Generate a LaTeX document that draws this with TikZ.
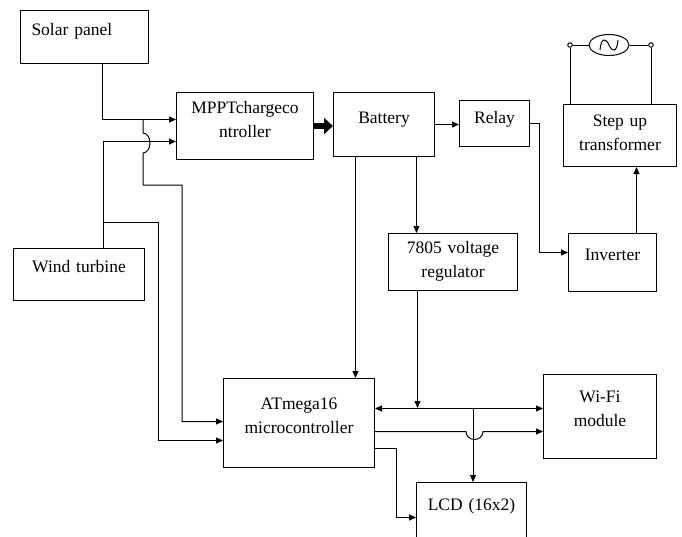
\documentclass[tikz,border=0pt]{standalone}
\usepackage{fontspec}
\setmainfont{Liberation Serif}
\newfontfamily\blockfont{Liberation Serif}
\usetikzlibrary{arrows.meta,shapes.geometric}
\tikzset{block/.style = {shape=rectangle,draw,inner sep=0pt,anchor=north west,align=center,font=\blockfont\fontsize{17.5}{24}\selectfont}}
\tikzset{link/.style = {-{Triangle[length=7pt,width=6pt]}}}
\tikzset{fatlink/.style = {line width=6pt,-{Triangle[length=9pt,width=16pt]}}}
\tikzset{acsrc/.style = {shape=ellipse,draw,minimum width=40pt,minimum height=21pt,inner sep=0pt}}
\tikzset{term/.style = {shape=circle,draw,fill=white,minimum size=4.5pt,inner sep=0pt}}

\begin{document}
\begin{tikzpicture}[x=1pt,y=-1pt,line width=1pt]
\useasboundingbox (0,0) rectangle (682,536);
% blocks
\node[block,text width=128pt,text height=25pt,text depth=28pt,align=left] (solar) at (20,10) {\hspace*{11pt}Solar panel};
\node[block,text width=137pt,text height=21pt,text depth=46pt] (mppt) at (176,92) {MPPTchargeco\\ntroller};
\node[block,text width=101pt,text height=31pt,text depth=33pt] (battery) at (333,92) {Battery};
\node[block,text width=70pt,text height=23pt,text depth=23pt] (relay) at (459,100) {Relay};
\node[block,text width=113pt,text height=22pt,text depth=40pt] (stepup) at (563,104) {Step up\\transformer};
\node[block,text width=129pt,text height=20pt,text depth=37pt] (reg) at (388,233) {7805 voltage\\regulator};
\node[block,text width=88pt,text height=27pt,text depth=31pt] (inverter) at (568,233) {Inverter};
\node[block,text width=131pt,text height=24pt,text depth=28pt] (wind) at (13,248) {Wind turbine};
\node[block,text width=151pt,text height=31pt,text depth=58pt] (atmega) at (223,378) {ATmega16\\microcontroller};
\node[block,text width=113pt,text height=28pt,text depth=56pt] (wifi) at (543,374) {Wi-Fi\\module};
\node[block,text width=110pt,text height=28pt,text depth=32pt] (lcd) at (416,482) {LCD (16x2)};

% ac output
\node[acsrc] (ac) at (609,45) {};
\node[term] (t1) at (570,45) {};
\node[term] (t2) at (651,45) {};
\draw[shift={(ac.center)}] (-9pt,-5pt) .. controls (-8pt,8pt) and (-3pt,7pt) .. (0pt,0pt) .. controls (3pt,-7pt) and (8pt,-8pt) .. (9pt,5pt);

% junctions
\coordinate (j1) at (143,119);
\coordinate (j2) at (103,222);
\coordinate (j3) at (473,408);

%links
\draw[link] ([xshift=18pt]solar.south) |- ([yshift=6.5pt]mppt.west);
\draw[link] ([xshift=24.5pt]wind.north) |- ([yshift=-15.5pt]mppt.west);
\draw[link] (j1) -- ++(0,14) arc[start angle=90,end angle=-90,x radius=7pt,y radius=10pt] -- ++(0,32) -- ++(39,0) |- ([yshift=1.5pt]atmega.west);
\draw[link] (j2) -- ++(55,0) |- ([yshift=-17.5pt]atmega.west);
\draw[fatlink] (mppt.east) -- (mppt.east -| battery.west);
\draw[link] (battery.east) -- (battery.east -| relay.west);
\draw[link] (relay.east) -- ++(9,0) |- ([yshift=10pt]inverter.west);
\draw[link] ([xshift=24pt]inverter.north) -- ([xshift=24pt]inverter.north |- stepup.south);
\draw (t1) -- (ac) -- (t2);
\draw (t1) -- (t1 |- stepup.north);
\draw (t2) -- (t2 |- stepup.north);
\draw[link] ([xshift=-28.5pt]battery.south) -- ([xshift=-28.5pt]battery.south |- atmega.north);
\draw[link] ([xshift=32.5pt]battery.south) -- ([xshift=32.5pt]battery.south |- reg.north);
\draw[{Triangle[length=7pt,width=6pt]}-{Triangle[length=7pt,width=6pt]}] ([yshift=14.5pt]atmega.east) -- ([yshift=14.5pt]atmega.east -| wifi.west);
\draw[link] ([xshift=-35.5pt]reg.south) -- ([xshift=-35.5pt]reg.south |- j3);
\draw[link] (j3) -- (j3 |- lcd.north);
\draw[link] ([yshift=-8.5pt]atmega.east) -- ++(91,0) arc[start angle=180,end angle=360,x radius=8.5pt,y radius=8pt] -- ([yshift=-15pt]wifi.west);
\draw[link] ([yshift=-25.5pt]atmega.east) -- ++(21,0) |- ([yshift=-5pt]lcd.west);
\end{tikzpicture}
\end{document}
